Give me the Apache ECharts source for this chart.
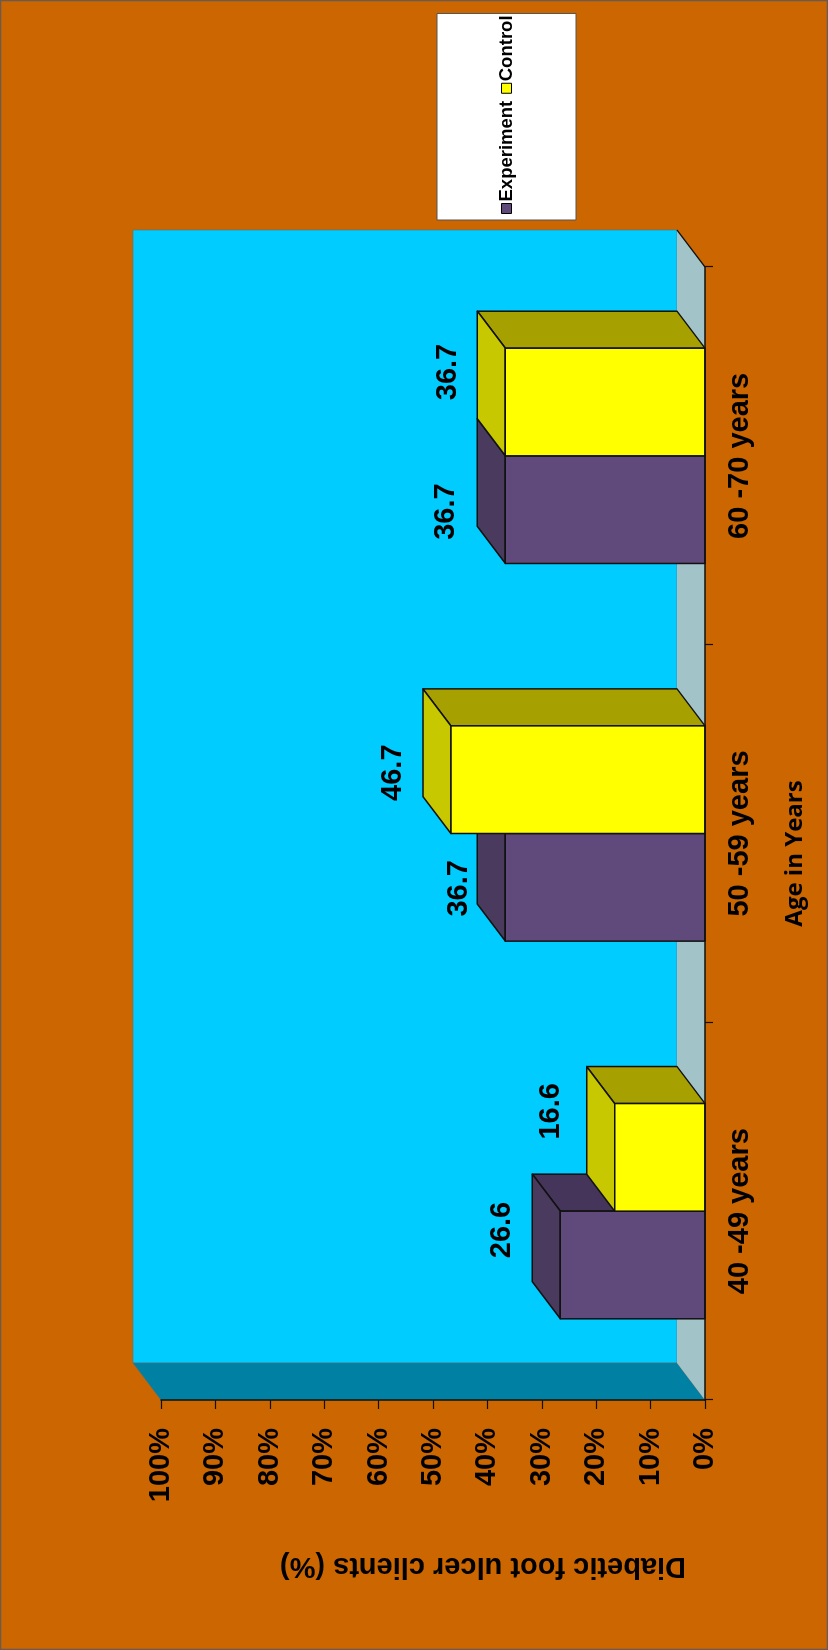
<!DOCTYPE html>
<html>
<head>
<meta charset="utf-8">
<title>Diabetic foot ulcer clients by age</title>
<script src="https://cdn.jsdelivr.net/npm/echarts@6/dist/echarts.min.js"></script>
<style>
  html, body { margin: 0; padding: 0; background: #CC6600; overflow: hidden; }
  #frame { position: relative; width: 828px; height: 1650px; overflow: hidden; }
  /* the chart is laid out landscape and turned a quarter turn counter-clockwise */
  #chart { position: absolute; left: 0; top: 0; width: 1650px; height: 828px;
           transform-origin: 0 0; transform: translate(0, 1650px) rotate(-90deg); }
</style>
</head>
<body>
<div id="frame"><div id="chart"></div></div>
<script>
// ---- data ----
const categories = ['40 -49 years', '50 -59 years', '60 -70 years'];
const seriesNames = ['Experiment', 'Control'];
const experiment = [26.6, 36.7, 36.7];
const control = [16.6, 46.7, 36.7];
const valueMin = 0;
const valueMax = 100;
const valueStep = 10;

// ---- styling ----
const FONT = '"Liberation Sans", Arial, sans-serif';
const DEPTH = [37, -28];           // 3D depth offset of walls and boxes (px)
const BAR_SHARE = 0.285;           // box width as a share of a category band
const palette = {
  Experiment: { front: '#604A7B', top: '#4A3A5E', side: '#45355A' },
  Control:    { front: '#FFFF00', top: '#C8C800', side: '#A6A000' }
};
// nudges for the value labels [along category, along value], per series
const labelNudge = {
  Experiment: [[35, -58], [-1, -46], [-2, -59]],
  Control:    [[46, -64], [7, -58], [30, -57]]
};

const chart = echarts.init(document.getElementById('chart'), null, { renderer: 'canvas' });

function boxRenderer(name, order) {
  const col = palette[name];
  return function (params, api) {
    const cat = api.value(0);
    const val = api.value(1);
    const band = api.size([1, 0])[0];
    const base = api.coord([cat, 0]);
    const head = api.coord([cat, val]);
    const w = band * BAR_SHARE;
    const x0 = order === 0 ? base[0] - w : base[0];
    const x1 = x0 + w;
    const yb = base[1];
    const yt = head[1];
    const dx = DEPTH[0], dy = DEPTH[1];
    const edge = { stroke: '#111', lineWidth: 1.5, lineJoin: 'round' };
    const nudge = labelNudge[name][cat];
    return {
      type: 'group',
      children: [
        { type: 'polygon', shape: { points: [[x1, yt], [x1 + dx, yt + dy], [x1 + dx, yb + dy], [x1, yb]] },
          style: Object.assign({ fill: col.side }, edge) },
        { type: 'polygon', shape: { points: [[x0, yt], [x0 + dx, yt + dy], [x1 + dx, yt + dy], [x1, yt]] },
          style: Object.assign({ fill: col.top }, edge) },
        { type: 'rect', shape: { x: x0, y: yt, width: w, height: yb - yt },
          style: Object.assign({ fill: col.front }, edge) },
        { type: 'text', x: (x0 + x1) / 2 + nudge[0], y: yt + nudge[1],
          style: { text: String(val), fill: '#000', font: 'bold 29px ' + FONT,
                   align: 'center', verticalAlign: 'middle' } }
      ]
    };
  };
}

function wallRenderer(params, api) {
  const cs = params.coordSys;
  const L = cs.x, R = cs.x + cs.width, T = cs.y, B = cs.y + cs.height;
  const dx = DEPTH[0], dy = DEPTH[1];
  return {
    type: 'group',
    children: [
      { type: 'rect', shape: { x: L + dx, y: T + dy, width: R - L, height: B - T },
        style: { fill: '#00CCFF', stroke: 'rgba(80,110,120,0.55)', lineWidth: 1 } },
      { type: 'polygon', shape: { points: [[L, T], [L + dx, T + dy], [L + dx, B + dy], [L, B]] },
        style: { fill: '#0081A3', stroke: 'rgba(80,110,120,0.5)', lineWidth: 1 } },
      { type: 'polygon', shape: { points: [[L, B], [R, B], [R + dx, B + dy], [L + dx, B + dy]] },
        style: { fill: '#A2C4C9' } },
      { type: 'line', shape: { x1: R, y1: B, x2: R + dx, y2: B + dy },
        style: { stroke: '#111', lineWidth: 1.5 } }
    ]
  };
}

const option = {
  backgroundColor: '#CC6600',
  animation: false,
  grid: { left: 250, right: 267, top: 161, bottom: 123 },
  legend: {
    data: seriesNames,
    left: 1430, top: 437,
    orient: 'horizontal',
    icon: 'rect',
    itemWidth: 10, itemHeight: 10, itemGap: 7,
    backgroundColor: '#FFFFFF',
    borderColor: '#555', borderWidth: 1, borderRadius: 0,
    padding: [60, 2, 60, 6],
    itemStyle: { borderColor: '#000', borderWidth: 1 },
    textStyle: { color: '#000', fontSize: 18.5, fontWeight: 'bold', fontFamily: FONT, padding: [0, 0, 0, -3] }
  },
  xAxis: {
    type: 'category',
    data: categories,
    z: 10,
    axisLine: { show: true, lineStyle: { color: '#111', width: 1.5 } },
    axisTick: { show: true, length: 8, interval: 0, lineStyle: { color: '#111', width: 1.2 } },
    axisLabel: { color: '#000', fontSize: 29, fontWeight: 'bold', fontFamily: FONT, margin: 20, interval: 0 },
    splitLine: { show: false },
    name: 'Age in Years',
    nameLocation: 'middle',
    nameGap: 78,
    nameTextStyle: { color: '#000', fontSize: 24, fontWeight: 'bold', fontFamily: '"Open Sans", Lato, sans-serif',
                     padding: [0, 40, 0, 0] }
  },
  yAxis: {
    type: 'value',
    min: valueMin, max: valueMax, interval: valueStep,
    z: 10,
    axisLine: { show: true, lineStyle: { color: '#111', width: 1.5 } },
    axisTick: { show: true, length: 9, lineStyle: { color: '#111', width: 1.2 } },
    axisLabel: { color: '#000', fontSize: 29, fontWeight: 'bold', fontFamily: FONT, margin: 28,
                 formatter: '{value}%' },
    splitLine: { show: false },
    name: 'Diabetic foot ulcer clients (%)',
    nameLocation: 'middle',
    nameRotate: 90,
    nameGap: 152,
    nameTextStyle: { color: '#000', fontSize: 29, fontWeight: 'bold', fontFamily: FONT,
                     padding: [0, 100, 0, 0] }
  },
  graphic: [{
    type: 'rect', silent: true, z: 100,
    shape: { x: 0.5, y: 0.5, width: 1649, height: 827 },
    style: { fill: null, stroke: '#6a5a50', lineWidth: 1.5 }
  }],
  series: [
    { type: 'custom', name: 'walls', silent: true, renderItem: wallRenderer, data: [[0, 0]],
      encode: { x: 0, y: 1 }, z: 1 },
    { type: 'custom', name: seriesNames[0], renderItem: boxRenderer(seriesNames[0], 0),
      itemStyle: { color: palette.Experiment.front }, encode: { x: 0, y: 1 }, z: 2,
      data: experiment.map((v, i) => [i, v]) },
    { type: 'custom', name: seriesNames[1], renderItem: boxRenderer(seriesNames[1], 1),
      itemStyle: { color: palette.Control.front }, encode: { x: 0, y: 1 }, z: 2,
      data: control.map((v, i) => [i, v]) }
  ]
};

chart.setOption(option);
</script>
</body>
</html>
